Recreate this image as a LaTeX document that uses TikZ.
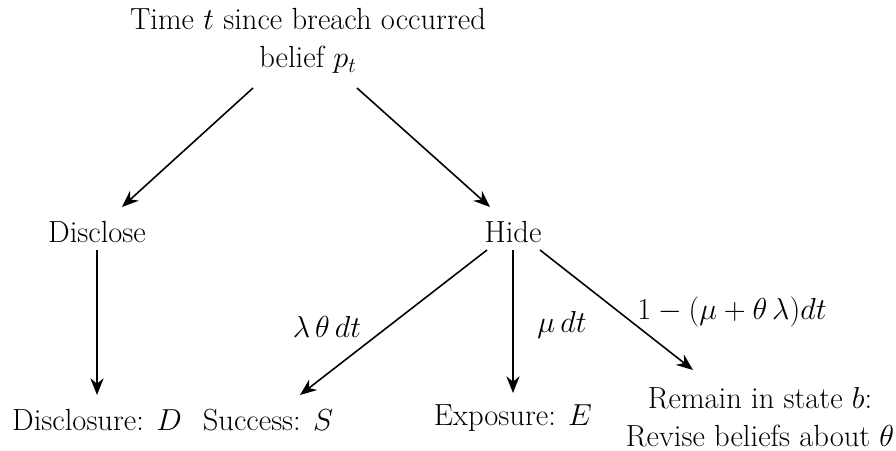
\documentclass[tikz,border=0pt]{standalone}
\usepackage{amsmath}
\usepackage{amssymb}
\usetikzlibrary{arrows.meta}

\tikzset{
  arr/.style={-{Stealth[length=9.5pt,width=7.5pt]}, line width=0.9pt},
  every node/.style={font=\fontsize{17.4}{21.5}\selectfont}
}

\begin{document}
\begin{tikzpicture}[x=0.02cm, y=-0.02cm]
  \useasboundingbox (0,0) rectangle (896,450);
  % tree of states
  \node[align=center] (top) at (308,41) {Time $t$ since breach occurred\\ belief $p_t$};
  \node (disclose) at (97,232) {Disclose};
  \node (hide) at (513,232) {Hide};
  \node (disclosure) at (97,420) {Disclosure: $D$};
  \node (success) at (268,420) {Success: $S$};
  \node (exposure) at (513,418) {Exposure: $E$};
  \node[align=center] (remain) at (760,417) {Remain in state $b$:\\ Revise beliefs about $\theta$};

  \draw[arr] ([shift={(-55,47)}]top.center) -- ([shift={(25,-25)}]disclose.center);
  \draw[arr] ([shift={(49,47)}]top.center) -- ([shift={(-23,-25)}]hide.center);
  \draw[arr] ([shift={(0,18)}]disclose.center) -- ([shift={(0,-25)}]disclosure.center);
  \draw[arr] ([shift={(-26,18)}]hide.center) -- ([shift={(32,-25)}]success.center);
  \draw[arr] ([shift={(0,18)}]hide.center) -- ([shift={(0,-25)}]exposure.center);
  \draw[arr] ([shift={(27,18)}]hide.center) -- ([shift={(-67,-47)}]remain.center);

  % rates
  \node (rateS) at (327,327) {$\lambda\,\theta\,dt$};
  \node (rateE) at (562,325) {$\mu\,dt$};
  \node (rateB) at (732,312) {$1-(\mu+\theta\,\lambda)dt$};
\end{tikzpicture}
\end{document}
